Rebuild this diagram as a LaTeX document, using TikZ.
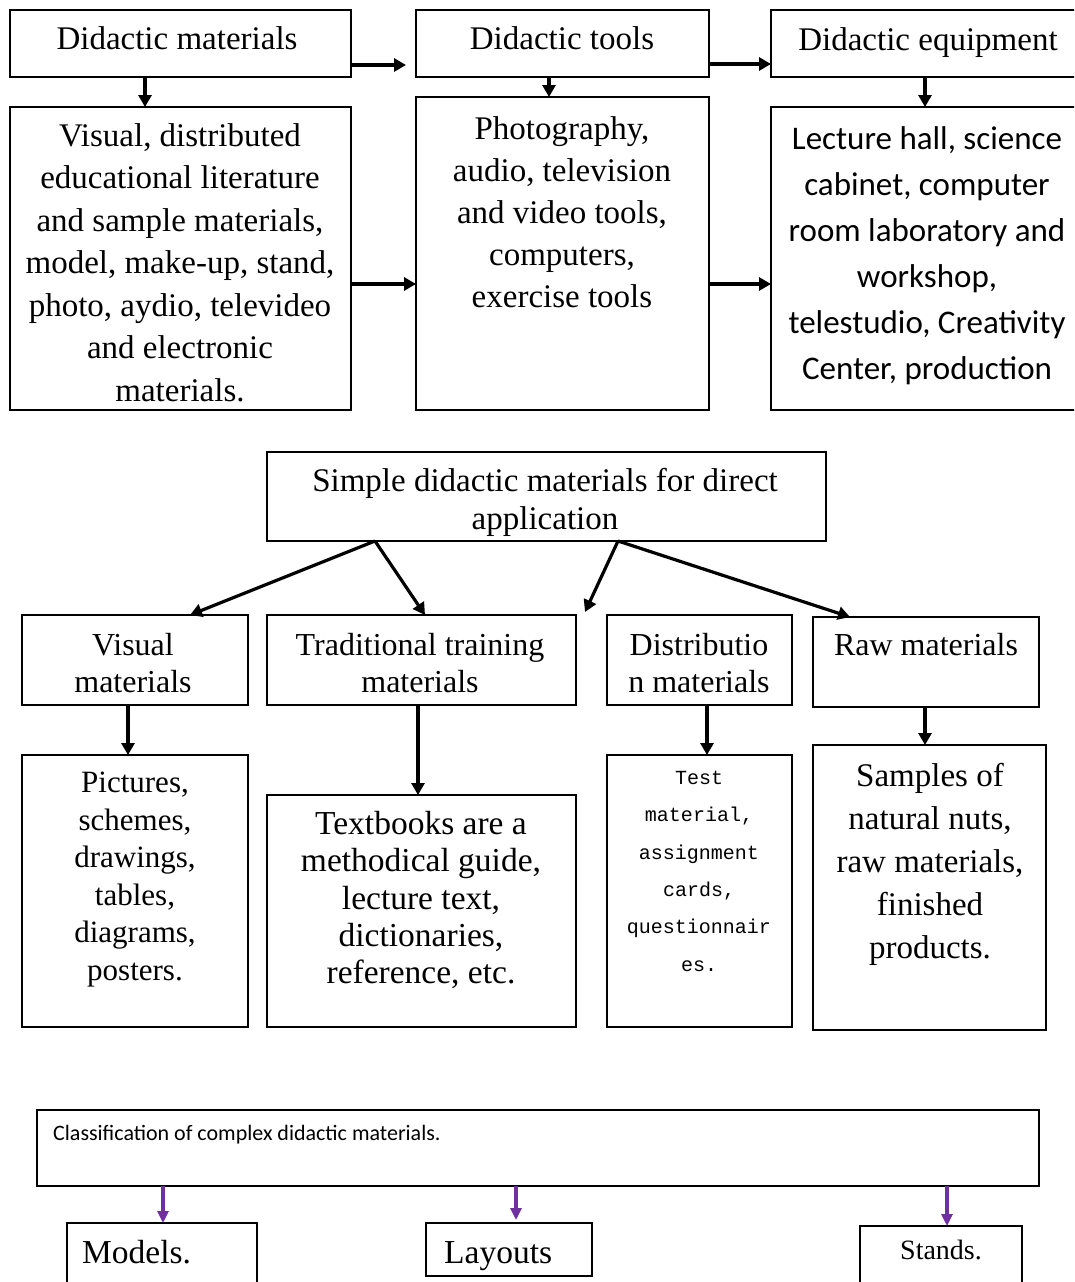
\documentclass[tikz,border=0pt]{standalone}
\usepackage{fontspec}
\setmainfont{Liberation Serif}
\newfontfamily\carlfont{Carlito}
\newfontfamily\cardsfont{Liberation Mono}
\usetikzlibrary{arrows.meta}
\definecolor{arrowpurple}{HTML}{7030A0}
\begin{document}
\begin{tikzpicture}[x=1pt,y=-1pt,
  box/.style={draw, line width=1.6pt, inner sep=0pt, outer sep=0pt, rectangle},
  txt/.style={anchor=north, align=center, inner sep=0pt, font=\fontsize{33}{42.5}\selectfont},
  lbl/.style={anchor=base, inner sep=0pt, font=\fontsize{33}{38}\selectfont},
  arr/.style={line width=3.2pt, -{Triangle[length=12pt,width=13pt]}},
  parr/.style={arrowpurple, line width=3.2pt, -{Triangle[length=12pt,width=11pt]}}]
\useasboundingbox (0,0) rectangle (1074,1282);
\clip (0,0) rectangle (1074,1282);
\fill[white] (0,0) rectangle (1074,1282);

% ---- top row
\node[box, minimum width=341pt, minimum height=67pt] (dm) at (180.5,43.5) {};
\node[box, minimum width=293pt, minimum height=67pt] (dt) at (562.5,43.5) {};
\node[box, minimum width=314pt, minimum height=67pt] (de) at (928,43.5) {};
\node[lbl] (dmt) at (177,49) {Didactic materials};
\node[lbl] (dtt) at (562,49) {Didactic tools};
\node[lbl] (det) at (928,50) {Didactic equipment};

\node[box, minimum width=341pt, minimum height=303pt] (a2) at (180.5,258.5) {};
\node[box, minimum width=293pt, minimum height=313pt] (b2) at (562.5,253.5) {};
\node[box, minimum width=314pt, minimum height=303pt] (c2) at (928,258.5) {};
\node[txt] (a2t) at (180,123) {Visual, distributed\\educational literature\\and sample materials,\\model, make-up, stand,\\photo, aydio, televideo\\and electronic\\materials.};
\node[txt, font=\fontsize{33}{42}\selectfont] (b2t) at (562,116) {Photography,\\audio, television\\and video tools,\\computers,\\exercise tools};
\node[txt, font=\carlfont\fontsize{33}{46}\selectfont] (c2t) at (927,126) {Lecture hall, science\\cabinet, computer\\room laboratory and\\workshop,\\telestudio, Creativity\\Center, production};

\draw[arr] (dm.east |- 0,65) -- (dt.west |- 0,65) [shorten >=10pt];
\draw[arr] (dt.east |- 0,64) -- (de.west |- 0,64);
\draw[arr] (dm.south -| 145,0) -- (a2.north -| 145,0);
\draw[arr] (dt.south -| 549,0) -- (b2.north -| 549,0);
\draw[arr] (de.south -| 925,0) -- (c2.north -| 925,0);
\draw[arr] (a2.east |- 0,284) -- (b2.west |- 0,284);
\draw[arr] (b2.east |- 0,284) -- (c2.west |- 0,284);

% ---- simple materials
\node[box, minimum width=559pt, minimum height=89pt] (sm) at (546.5,496.5) {};
\node[txt, font=\fontsize{33}{38}\selectfont] (smt) at (545,468) {Simple didactic materials for direct\\application};

\node[box, minimum width=226pt, minimum height=90pt] (vis) at (135,660) {};
\node[box, minimum width=309pt, minimum height=90pt] (trad) at (421.5,660) {};
\node[box, minimum width=185pt, minimum height=90pt] (dist) at (699.5,660) {};
\node[box, minimum width=226pt, minimum height=90pt] (raw) at (926,662) {};
\node[txt, font=\fontsize{32}{37}\selectfont] (vist) at (133,633) {Visual\\materials};
\node[txt, font=\fontsize{32}{37}\selectfont] (tradt) at (420,633) {Traditional training\\materials};
\node[txt, font=\fontsize{32}{37}\selectfont] (distt) at (699,633) {Distributio\\n materials};
\node[txt, font=\fontsize{32}{37}\selectfont] (rawt) at (926,633) {Raw materials};

\coordinate (gap) at (585,612);
\draw[arr] (sm.south -| 375,0) -- (vis.north -| 190,0);
\draw[arr] (sm.south -| 375,0) -- (trad.north -| 425,0);
\draw[arr] (sm.south -| 618,0) -- (gap);
\draw[arr] (sm.south -| 618,0) -- (raw.north -| 850,0);

\node[box, minimum width=226pt, minimum height=272pt] (pic) at (135,891) {};
\node[box, minimum width=309pt, minimum height=232pt] (tb) at (421.5,911) {};
\node[box, minimum width=185pt, minimum height=272pt] (test) at (699.5,891) {};
\node[box, minimum width=233pt, minimum height=285pt] (samp) at (929.5,887.5) {};
\node[txt, font=\fontsize{31}{37.5}\selectfont] (pict) at (135,772) {Pictures,\\schemes,\\drawings,\\tables,\\diagrams,\\posters.};
\node[txt, font=\fontsize{33.5}{37.3}\selectfont] (tbt) at (421,811) {Textbooks are a\\methodical guide,\\lecture text,\\dictionaries,\\reference, etc.};
\node[txt, font=\cardsfont\fontsize{20}{37.3}\selectfont] (testt) at (699,771) {Test\\material,\\assignment\\cards,\\questionnair\\es.};
\node[txt, font=\fontsize{33}{43}\selectfont] (sampt) at (930,763) {Samples of\\natural nuts,\\raw materials,\\finished\\products.};

\draw[arr] (vis.south -| 128,0) -- (pic.north -| 128,0);
\draw[arr] (trad.south -| 418,0) -- (tb.north -| 418,0);
\draw[arr] (dist.south -| 707,0) -- (test.north -| 707,0);
\draw[arr] (raw.south -| 925,0) -- (samp.north -| 925,0);

% ---- complex materials
\node[box, minimum width=1002pt, minimum height=76pt] (cls) at (538,1148) {};
\node[anchor=west, inner sep=0pt, font=\carlfont\fontsize{22}{26}\selectfont] (clst) at (53,1135) {Classification of complex didactic materials.};

\node[box, minimum width=190pt, minimum height=67pt] (mod) at (162,1256.5) {};
\node[box, minimum width=166pt, minimum height=53pt] (lay) at (509,1249.5) {};
\node[box, minimum width=162pt, minimum height=64pt] (sta) at (941,1258) {};
\node[lbl, anchor=base west, font=\fontsize{33.5}{38}\selectfont] (modt) at (82,1263) {Models.};
\node[lbl, anchor=base west, font=\fontsize{33.5}{38}\selectfont] (layt) at (444,1263) {Layouts};
\node[lbl, anchor=base west, font=\fontsize{28}{32}\selectfont] (stat) at (900,1259) {Stands.};

\draw[parr] (cls.south -| 163,0) -- (mod.north -| 163,0);
\draw[parr] (cls.south -| 516,0) -- (lay.north -| 516,0) [shorten >=3pt];
\draw[parr] (cls.south -| 947,0) -- (sta.north -| 947,0);
\end{tikzpicture}
\end{document}
